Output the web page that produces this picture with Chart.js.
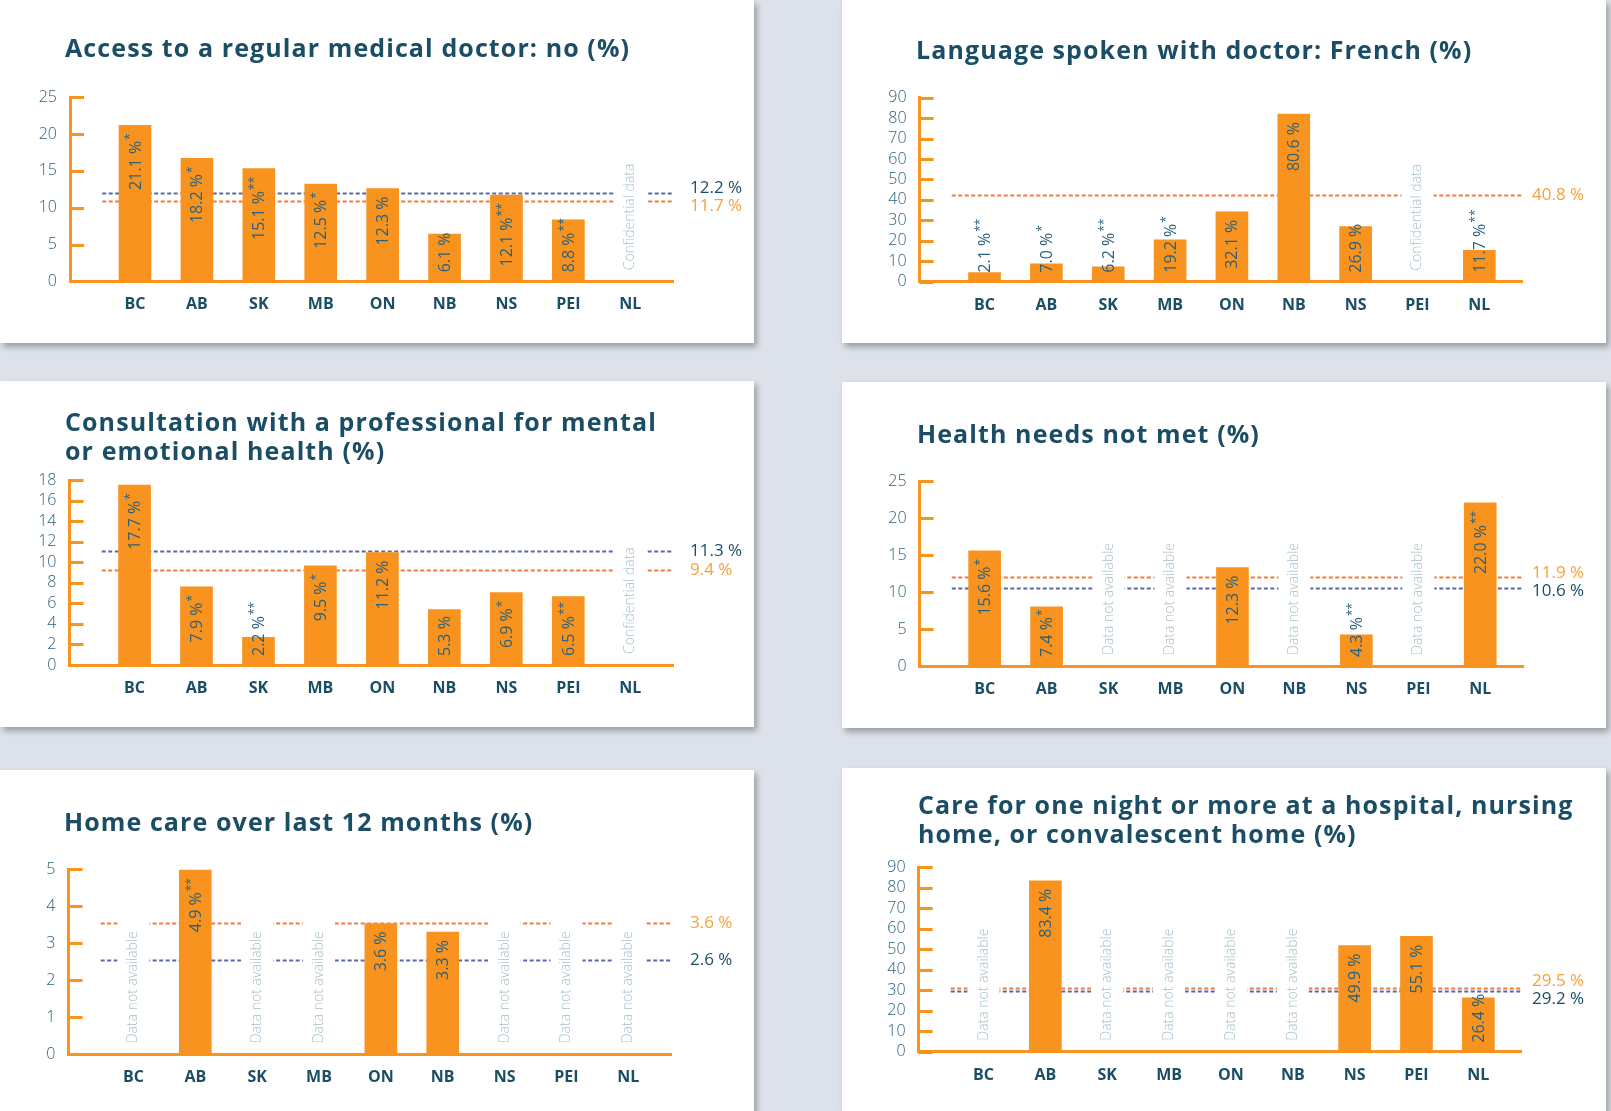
<!DOCTYPE html>
<html lang="en">
  <head>
    <meta charset="UTF-8" />
    <title>Health care indicators by province (%)</title>
    <script src="https://cdn.jsdelivr.net/npm/chart.js@4.4.1/dist/chart.umd.min.js"></script>
    <style>
      body {
        margin: 0;
        width: 1611px;
        height: 1111px;
        overflow: hidden;
        position: relative;
        background: #dde1e9;
        font-family: "Open Sans", sans-serif;
      }
      .panel {
        position: absolute;
        background: #fff;
        box-shadow: 3px 4px 6px rgba(0, 0, 0, 0.3);
      }
      .panel canvas {
        position: absolute;
        left: 0;
        top: 0;
      }
      .panel h2 {
        position: absolute;
        margin: 0;
        font: 700 25px/29px "Open Sans", sans-serif;
        letter-spacing: 1.1px;
        color: #1b4e65;
        white-space: nowrap;
        z-index: 2;
      }
    </style>
  </head>
  <body>
    <div class="panel" style="left:0;top:0;width:754px;height:343px">
      <h2 style="left:65px;top:33px">Access to a regular medical doctor: no (%)</h2>
      <canvas id="c1" width="754" height="343"></canvas>
    </div>
    <div class="panel" style="left:842px;top:0;width:764px;height:343px">
      <h2 style="left:74px;top:35px">Language spoken with doctor: French (%)</h2>
      <canvas id="c2" width="764" height="343"></canvas>
    </div>
    <div class="panel" style="left:0;top:381px;width:754px;height:346px">
      <h2 style="left:65px;top:26px">Consultation with a professional for mental<br />or emotional health (%)</h2>
      <canvas id="c3" width="754" height="346"></canvas>
    </div>
    <div class="panel" style="left:842px;top:382px;width:764px;height:346px">
      <h2 style="left:75px;top:37px">Health needs not met (%)</h2>
      <canvas id="c4" width="764" height="346"></canvas>
    </div>
    <div class="panel" style="left:0;top:770px;width:754px;height:341px">
      <h2 style="left:64px;top:37px">Home care over last 12 months (%)</h2>
      <canvas id="c5" width="754" height="341"></canvas>
    </div>
    <div class="panel" style="left:842px;top:768px;width:764px;height:343px">
      <h2 style="left:76px;top:22px">Care for one night or more at a hospital, nursing<br />home, or convalescent home (%)</h2>
      <canvas id="c6" width="764" height="343"></canvas>
    </div>

    <script>
      const provinces = ["BC", "AB", "SK", "MB", "ON", "NB", "NS", "PEI", "NL"];

      // bar heights as drawn, printed labels as printed; averages are [blue, orange]
      const noDoctor = [21.2, 16.7, 15.3, 13.2, 12.6, 6.4, 11.7, 8.35, null];
      const noDoctorText = ["21.1 %*", "18.2 %*", "15.1 %**", "12.5 %*", "12.3 %", "6.1 %", "12.1 %**", "8.8 %**", ""];
      const noDoctorAvg = [12.0, 10.95];
      const noDoctorAvgText = ["12.2 %", "11.7 %"];

      const french = [4.4, 8.7, 7.3, 20.5, 34.2, 82.0, 26.9, null, 15.4];
      const frenchText = ["2.1 %**", "7.0 %*", "6.2 %**", "19.2 %*", "32.1 %", "80.6 %", "26.9 %", "", "11.7 %**"];
      const frenchAvg = [null, 42.3];
      const frenchAvgText = ["", "40.8 %"];

      const mental = [17.5, 7.6, 2.7, 9.65, 10.95, 5.4, 7.05, 6.65, null];
      const mentalText = ["17.7 %*", "7.9 %*", "2.2 %**", "9.5 %*", "11.2 %", "5.3 %", "6.9 %*", "6.5 %**", ""];
      const mentalAvg = [11.1, 9.2];
      const mentalAvgText = ["11.3 %", "9.4 %"];

      const unmet = [15.55, 8.0, null, null, 13.3, null, 4.2, null, 22.05];
      const unmetText = ["15.6 %*", "7.4 %*", "", "", "12.3 %", "", "4.3 %**", "", "22.0 %**"];
      const unmetAvg = [10.5, 12.05];
      const unmetAvgText = ["10.6 %", "11.9 %"];

      const homeCare = [null, 4.97, null, null, 3.53, 3.3, null, null, null];
      const homeCareText = ["", "4.9 %**", "", "", "3.6 %", "3.3 %", "", "", ""];
      const homeCareAvg = [2.55, 3.54];
      const homeCareAvgText = ["2.6 %", "3.6 %"];

      const hospital = [null, 83.45, null, null, null, null, 51.8, 56.25, 26.3];
      const hospitalText = ["", "83.4 %", "", "", "", "", "49.9 %", "55.1 %", "26.4 %"];
      const hospitalAvg = [29.4, 30.9];
      const hospitalAvgText = ["29.2 %", "29.5 %"];

      const yMaxes = [25, 90, 18, 25, 5, 90];
      const ySteps = [5, 10, 2, 5, 1, 10];

      const ORANGE = "#f7931e";
      const NAVY = "#1b4e65";
      const TICK = "#2b617a";
      const LINE_COLORS = ["#5a67a8", "#f4793b"];
      const AVG_TEXT_COLORS = ["#1b4e65", "#f7a13a"];
      const NOTE = "#a9c0cb";
      const FONT = "'Open Sans', sans-serif";

      // chart area inside each panel: left, top, right, bottom
      const panels = [
        { id: "c1", bars: noDoctor, text: noDoctorText, avg: noDoctorAvg, avgText: noDoctorAvgText, note: "Confidential data", area: [70, 97.3, 673, 281.3] },
        { id: "c2", bars: french, text: frenchText, avg: frenchAvg, avgText: frenchAvgText, note: "Confidential data", area: [77.6, 97.7, 680, 281.7] },
        { id: "c3", bars: mental, text: mentalText, avg: mentalAvg, avgText: mentalAvgText, note: "Confidential data", area: [69.5, 99, 673, 284] },
        { id: "c4", bars: unmet, text: unmetText, avg: unmetAvg, avgText: unmetAvgText, note: "Data not available", area: [77.6, 99, 681, 284] },
        { id: "c5", bars: homeCare, text: homeCareText, avg: homeCareAvg, avgText: homeCareAvgText, note: "Data not available", area: [68.5, 99, 671, 284.3] },
        { id: "c6", bars: hospital, text: hospitalText, avg: hospitalAvg, avgText: hospitalAvgText, note: "Data not available", area: [76.6, 99.3, 679, 283.7] },
      ];

      function decoPlugin(p) {
        return {
          id: "deco",
          beforeDatasetsDraw(chart) {
            const { ctx, chartArea: a } = chart;
            const x = chart.scales.x;
            const y = chart.scales.y;
            ctx.save();
            ctx.lineWidth = 2;
            ctx.setLineDash([4, 2.5]);
            p.avg.forEach((v, k) => {
              if (v == null) return;
              const py = Math.round(y.getPixelForValue(v)) + 0.5;
              ctx.strokeStyle = LINE_COLORS[k];
              ctx.beginPath();
              ctx.moveTo(x.getPixelForValue(-0.53), py);
              ctx.lineTo(a.right, py);
              ctx.stroke();
            });
            ctx.setLineDash([]);
            p.bars.forEach((v, i) => {
              if (v != null) return;
              const cx = x.getPixelForValue(i);
              ctx.fillStyle = "#fff";
              ctx.fillRect(cx - 16, a.top, 32, a.bottom - a.top - 3);
              ctx.save();
              ctx.translate(cx, a.bottom - 11);
              ctx.rotate(-Math.PI / 2);
              ctx.font = "300 14px " + FONT;
              ctx.fillStyle = NOTE;
              ctx.textAlign = "left";
              ctx.textBaseline = "middle";
              ctx.fillText(p.note, 0, 0);
              ctx.restore();
            });
            ctx.restore();
          },
          afterDatasetsDraw(chart) {
            const { ctx, chartArea: a } = chart;
            const x = chart.scales.x;
            const y = chart.scales.y;
            ctx.save();

            // inward tick marks on the y axis
            ctx.strokeStyle = ORANGE;
            ctx.lineWidth = 3;
            y.ticks.forEach((t) => {
              const py = Math.round(y.getPixelForValue(t.value)) + 0.5;
              ctx.beginPath();
              ctx.moveTo(a.left, py);
              ctx.lineTo(a.left + 14, py);
              ctx.stroke();
            });

            // rotated value labels
            ctx.fillStyle = TICK;
            ctx.textAlign = "left";
            ctx.textBaseline = "middle";
            p.bars.forEach((v, i) => {
              if (v == null) return;
              const label = p.text[i];
              const main = label.replace(/\*+$/, "");
              const stars = label.slice(main.length);
              ctx.font = "16px " + FONT;
              const wm = ctx.measureText(main).width;
              ctx.font = "12px " + FONT;
              const ws = stars ? ctx.measureText(stars).width + 1 : 0;
              const top = y.getPixelForValue(v);
              const bottom = Math.min(a.bottom - 9, top + 8 + wm + ws);
              ctx.save();
              ctx.translate(x.getPixelForValue(i), bottom);
              ctx.rotate(-Math.PI / 2);
              ctx.font = "16px " + FONT;
              ctx.fillText(main, 0, 1);
              if (stars) {
                ctx.font = "12px " + FONT;
                ctx.fillText(stars, wm + 1, -4);
              }
              ctx.restore();
            });

            // average labels on the right, pushed apart when close
            const items = [];
            p.avg.forEach((v, k) => {
              if (v != null) items.push({ k, py: y.getPixelForValue(v) });
            });
            if (items.length === 2) {
              items.sort((m, n) => m.py - n.py);
              if (items[1].py - items[0].py < 18) {
                const mid = (items[0].py + items[1].py) / 2;
                items[0].py = mid - 9;
                items[1].py = mid + 9;
              }
            }
            ctx.font = "17px " + FONT;
            items.forEach((it) => {
              ctx.fillStyle = AVG_TEXT_COLORS[it.k];
              ctx.fillText(p.avgText[it.k], 690, it.py);
            });
            ctx.restore();
          },
        };
      }

      panels.forEach((p, n) => {
        const [L, T, R, B] = p.area;
        const canvas = document.getElementById(p.id);
        new Chart(canvas, {
          type: "bar",
          data: {
            datasets: [
              {
                data: p.bars.map((v, i) => ({ x: i, y: v })),
                backgroundColor: ORANGE,
                barThickness: 32,
              },
            ],
          },
          options: {
            responsive: false,
            animation: false,
            events: [],
            layout: { padding: { top: T, right: canvas.width - R, left: 0, bottom: 0 } },
            plugins: { legend: { display: false }, tooltip: { enabled: false } },
            scales: {
              x: {
                type: "linear",
                offset: false,
                min: -1.05,
                max: 8.69,
                grid: { display: false, drawTicks: false },
                border: { display: true, color: ORANGE, width: 3 },
                afterBuildTicks: (s) => {
                  s.ticks = provinces.map((_, i) => ({ value: i }));
                },
                afterFit: (s) => {
                  s.height = canvas.height - B;
                },
                ticks: {
                  callback: (v) => provinces[v],
                  autoSkip: false,
                  maxRotation: 0,
                  padding: 14,
                  color: NAVY,
                  font: { family: FONT, size: 16, weight: "bold" },
                },
              },
              y: {
                min: 0,
                max: yMaxes[n],
                grid: { display: false, drawTicks: false },
                border: { display: true, color: ORANGE, width: 3 },
                afterFit: (s) => {
                  s.width = L;
                },
                ticks: {
                  stepSize: ySteps[n],
                  autoSkip: false,
                  padding: 13,
                  color: TICK,
                  font: { family: FONT, size: 16, weight: "300" },
                },
              },
            },
          },
          plugins: [decoPlugin(p)],
        });
      });
    </script>
  </body>
</html>
